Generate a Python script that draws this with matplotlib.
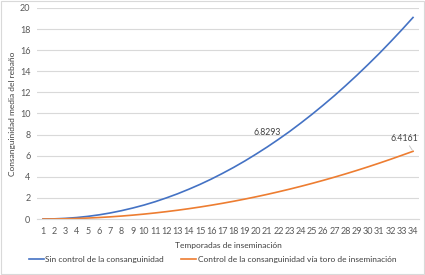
import matplotlib
matplotlib.use("Agg")
import matplotlib.pyplot as plt
from matplotlib.patches import Rectangle

# temporadas de inseminacio
temporadas = list(range(1, 35))
# consanguinitat sense control
sin_control = [0.0, 0.015, 0.06, 0.139, 0.25, 0.395, 0.575, 0.79, 1.04, 1.32,
               1.64, 2.00, 2.39, 2.82, 3.28, 3.78, 4.32, 4.89, 5.50, 6.15,
               6.8293, 7.55, 8.30, 9.10, 9.93, 10.80, 11.70, 12.65, 13.63, 14.65,
               15.70, 16.80, 17.93, 19.10]
# consanguinitat amb toro d'inseminacio
con_control = [0.0, 0.006, 0.022, 0.051, 0.090, 0.142, 0.205, 0.280, 0.367, 0.465,
               0.576, 0.698, 0.832, 0.978, 1.136, 1.306, 1.488, 1.682, 1.888, 2.106,
               2.335, 2.578, 2.832, 3.098, 3.376, 3.666, 3.968, 4.282, 4.609, 4.948,
               5.299, 5.661, 6.036, 6.4161]
yticks = [0, 2, 4, 6, 8, 10, 12, 14, 16, 18, 20]

plt.rcParams['font.family'] = ['Lato', 'DejaVu Sans']
gris = '#595959'

fig = plt.figure(figsize=(4.25, 2.75), dpi=100)
ax = fig.add_axes([0.088, 0.2036, 0.897, 0.7674])

ax.plot(temporadas, sin_control, color='#4472c4', lw=1.2,
        label='Sin control de la consanguinidad')
ax.plot(temporadas, con_control, color='#ed7d31', lw=1.2,
        label='Control de la consanguinidad vía toro de inseminación')

ax.set_xlim(0.5, 34.5)
ax.set_ylim(0, 20)
ax.set_xticks(temporadas)
ax.set_yticks(yticks)
ax.tick_params(axis='both', length=0, labelsize=6.5, colors=gris)
ax.tick_params(axis='x', pad=6)
ax.tick_params(axis='y', pad=5)
ax.grid(axis='y', color='#d9d9d9', lw=0.8)
ax.set_axisbelow(True)
for s in ['top', 'right', 'left']:
    ax.spines[s].set_visible(False)
ax.spines['bottom'].set_color('#d9d9d9')

ax.set_xlabel('Temporadas de inseminación', fontsize=6, color='#404040', labelpad=4)
ax.set_ylabel('Consanguinidad media del rebaño', fontsize=6, color='#404040', labelpad=3)

# etiquetes de dades
ax.annotate('%.4f' % sin_control[20], (temporadas[20], sin_control[20]),
            xytext=(0, 7), textcoords='offset points', ha='center', va='bottom',
            fontsize=6.3, color='#404040')
ax.annotate('%.4f' % con_control[33], (temporadas[33], con_control[33]),
            xytext=(-6, 6), textcoords='offset points', ha='center', va='bottom',
            fontsize=6.3, color='#404040',
            arrowprops=dict(arrowstyle='-', color='#bfbfbf', lw=0.6, shrinkA=0, shrinkB=1))

fig.legend(loc='lower center', bbox_to_anchor=(0.5, 0.015), ncol=2, frameon=False,
           fontsize=6, labelcolor='#404040', handlelength=1.8, handletextpad=0.2,
           columnspacing=2.0)

fig.patches.append(Rectangle((0.002, 0.003), 0.995, 0.993, transform=fig.transFigure,
                             fill=False, edgecolor='#d9d9d9', lw=0.8))

fig.savefig('out.png', dpi=100)
